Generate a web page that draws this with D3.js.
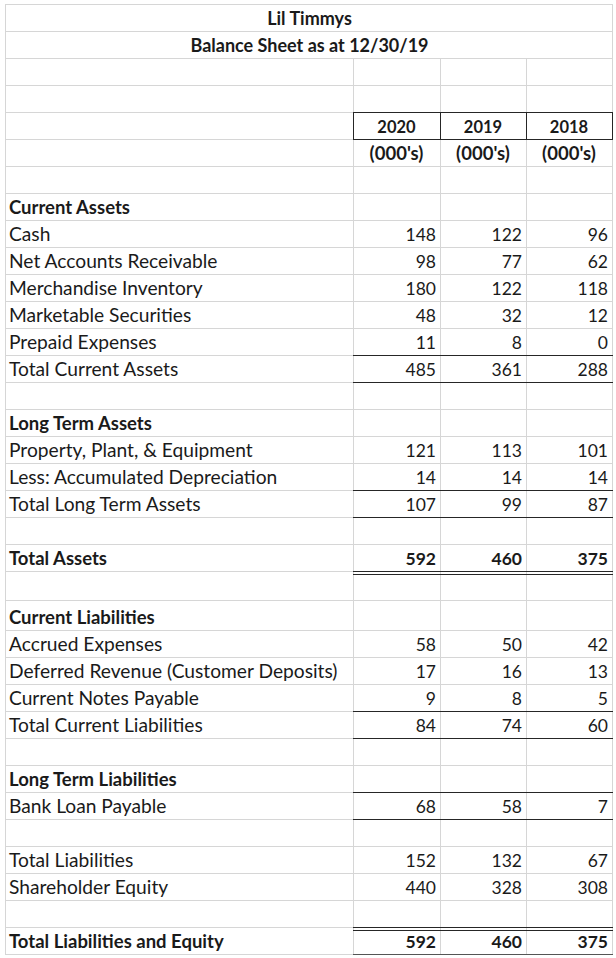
<!DOCTYPE html>
<html>
<head>
<meta charset="utf-8">
<script src="https://cdn.jsdelivr.net/npm/d3@7"></script>
<style>
  html, body { margin: 0; padding: 0; background: #fff; }
  svg { display: block; }
</style>
</head>
<body>
<svg id="chart" width="616" height="958"></svg>
<script>
// ---------------- DATA ----------------
const title = "Lil Timmys";
const subtitle = "Balance Sheet as at 12/30/19";
const years = ["2020", "2019", "2018"];
const unitLabel = "(000's)";

// One entry per spreadsheet row below the header block (rows 7..35)
const rowLabels = [
  "", "Current Assets", "Cash", "Net Accounts Receivable", "Merchandise Inventory",
  "Marketable Securities", "Prepaid Expenses", "Total Current Assets", "",
  "Long Term Assets", "Property, Plant, & Equipment", "Less: Accumulated Depreciation",
  "Total Long Term Assets", "", "Total Assets", "", "Current Liabilities",
  "Accrued Expenses", "Deferred Revenue (Customer Deposits)", "Current Notes Payable",
  "Total Current Liabilities", "", "Long Term Liabilities", "Bank Loan Payable", "",
  "Total Liabilities", "Shareholder Equity", "", "Total Liabilities and Equity"
];
const values2020 = [null, null, 148, 98, 180, 48, 11, 485, null, null, 121, 14, 107, null, 592, null, null, 58, 17, 9, 84, null, null, 68, null, 152, 440, null, 592];
const values2019 = [null, null, 122, 77, 122, 32, 8, 361, null, null, 113, 14, 99, null, 460, null, null, 50, 16, 8, 74, null, null, 58, null, 132, 328, null, 460];
const values2018 = [null, null, 96, 62, 118, 12, 0, 288, null, null, 101, 14, 87, null, 375, null, null, 42, 13, 5, 60, null, null, 7, null, 67, 308, null, 375];

// ---------------- LAYOUT / STYLE ----------------
const svg = d3.select("#chart");
const FONT = "Lato, 'Open Sans', sans-serif";
const FS_LABEL = 19.2;
const FS_LABEL_BOLD = 18.5;
const FS_NUM = 17.5;
const gridColor = "#d6d6d6";
const ink = "#1a1a1a";
const borderInk = "#262626";

const nRows = 6 + rowLabels.length;          // 6 header rows + body rows
const rowH = d3.range(nRows).map(i => (i === 21 ? 29 : i === 22 ? 30 : 27));
const rowTop = [4].concat(Array.from(d3.cumsum(rowH), v => 4 + v));
const y = d3.scaleOrdinal().domain(d3.range(nRows + 1)).range(rowTop);

const colNames = ["label", ...years];
const colEdges = [5, 353, 440, 526, 612];
const x = d3.scaleOrdinal().domain(d3.range(5)).range(colEdges);
const colX = d => x(colNames.indexOf(d));
const colR = d => x(colNames.indexOf(d) + 1);

const boldRows = new Set([1, 9, 14, 16, 22, 28]);   // body-row indices
const underlineAfter = [6, 7, 11, 12, 19, 20, 22, 23];
const doubleAfter = [14, 27];

const g = svg.append("g").attr("shape-rendering", "crispEdges");

// horizontal gridlines
g.selectAll("line.h").data(d3.range(nRows + 1)).join("line").attr("class", "h")
  .attr("x1", x(0)).attr("x2", x(4))
  .attr("y1", d => y(d) + 0.5).attr("y2", d => y(d) + 0.5)
  .attr("stroke", gridColor).attr("stroke-width", 1);

// left outer line
g.append("line").attr("x1", x(0) + 0.5).attr("x2", x(0) + 0.5)
  .attr("y1", y(0)).attr("y2", y(nRows)).attr("stroke", gridColor);
// vertical lines between columns (not in merged title rows)
g.selectAll("line.v").data([1, 2, 3, 4]).join("line").attr("class", "v")
  .attr("x1", d => x(d) + 0.5).attr("x2", d => x(d) + 0.5)
  .attr("y1", y(2)).attr("y2", y(nRows))
  .attr("stroke", gridColor);
g.append("line").attr("x1", x(4) + 0.5).attr("x2", x(4) + 0.5)
  .attr("y1", y(0)).attr("y2", y(2)).attr("stroke", gridColor);

// header box around years
g.append("rect")
  .attr("x", x(1) + 0.5).attr("y", y(4) + 0.5)
  .attr("width", x(4) - x(1)).attr("height", y(5) - y(4))
  .attr("fill", "none").attr("stroke", borderInk);
g.selectAll("line.hb").data([2, 3]).join("line").attr("class", "hb")
  .attr("x1", d => x(d) + 0.5).attr("x2", d => x(d) + 0.5)
  .attr("y1", y(4)).attr("y2", y(5))
  .attr("stroke", borderInk);

// single underlines (body row index -> bottom edge)
g.selectAll("line.u").data(underlineAfter).join("line").attr("class", "u")
  .attr("x1", x(1)).attr("x2", x(4) + 1)
  .attr("y1", d => y(6 + d + 1) + 0.5).attr("y2", d => y(6 + d + 1) + 0.5)
  .attr("stroke", borderInk);

// double underlines
doubleAfter.forEach(d => {
  [0, 3].forEach(off => {
    g.append("line")
      .attr("x1", x(1)).attr("x2", x(4) + 1)
      .attr("y1", y(6 + d + 1) + off + 0.5).attr("y2", y(6 + d + 1) + off + 0.5)
      .attr("stroke", borderInk);
  });
});
// bottom edge under the final total
g.append("line")
  .attr("x1", x(1)).attr("x2", x(4) + 1)
  .attr("y1", y(nRows) + 0.5).attr("y2", y(nRows) + 0.5)
  .attr("stroke", "#555");

// ---------------- TEXT ----------------
const t = svg.append("g").attr("font-family", FONT).attr("font-size", FS_NUM).attr("fill", ink);
const baseline = r => y(r + 1) - 6;

t.append("text").attr("x", (x(0) + x(4)) / 2 + 1).attr("y", baseline(0))
  .attr("text-anchor", "middle").attr("font-weight", "bold").attr("font-size", 18).text(title);
t.append("text").attr("x", (x(0) + x(4)) / 2 + 1).attr("y", baseline(1))
  .attr("text-anchor", "middle").attr("font-weight", "bold").attr("font-size", 18).text(subtitle);

t.selectAll("text.yr").data(years).join("text").attr("class", "yr")
  .attr("x", d => (colX(d) + colR(d)) / 2).attr("y", baseline(4))
  .attr("text-anchor", "middle").attr("font-weight", "bold").attr("font-size", 16.5).text(d => d);
t.selectAll("text.un").data(years).join("text").attr("class", "un")
  .attr("x", d => (colX(d) + colR(d)) / 2).attr("y", baseline(5))
  .attr("text-anchor", "middle").attr("font-weight", "bold").attr("font-size", 18.5).text(unitLabel);

const body = rowLabels.map((label, i) => ({
  i, label, vals: [values2020[i], values2019[i], values2018[i]]
}));

t.selectAll("text.lab").data(body.filter(d => d.label)).join("text").attr("class", "lab")
  .attr("x", x(0) + 4).attr("y", d => baseline(6 + d.i))
  .attr("font-weight", d => boldRows.has(d.i) ? "bold" : "normal")
  .attr("font-size", d => boldRows.has(d.i) ? FS_LABEL_BOLD : FS_LABEL)
  .text(d => d.label);

const cells = body.flatMap(d => d.vals.map((v, k) => ({ row: d.i, year: years[k], v })))
  .filter(c => c.v !== null);
t.selectAll("text.num").data(cells).join("text").attr("class", "num")
  .attr("x", c => colR(c.year) - 4).attr("y", c => baseline(6 + c.row))
  .attr("text-anchor", "end")
  .attr("font-weight", c => boldRows.has(c.row) ? "bold" : "normal")
  .text(c => d3.format("d")(c.v));
</script>
</body>
</html>
